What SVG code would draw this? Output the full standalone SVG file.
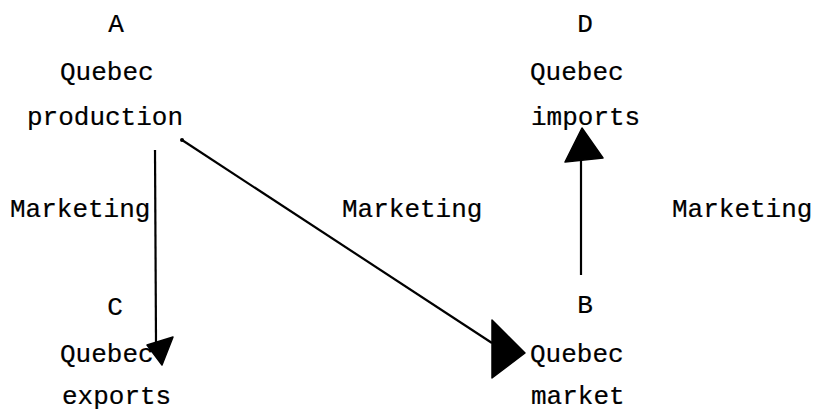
<svg xmlns="http://www.w3.org/2000/svg" width="813" height="411" viewBox="0 0 813 411">
  <style>
    text { font-family: "Liberation Mono", "DejaVu Sans Mono", monospace; font-size: 26px; fill: #000; stroke: #000; stroke-width: 0.2; }
    .mid { text-anchor: middle; }
    .line { stroke: #000; stroke-width: 2.2; fill: none; }
    .head { fill: #000; stroke: #000; stroke-width: 1.5; stroke-linejoin: round; }
  </style>
  <rect width="813" height="411" fill="#fff"/>
  <g id="node-A">
    <text class="mid" x="116" y="32">A</text>
    <text x="60" y="80">Quebec</text>
    <text x="27" y="125">production</text>
  </g>
  <g id="node-D">
    <text class="mid" x="585" y="32">D</text>
    <text x="530" y="80">Quebec</text>
    <text x="531" y="125">imports</text>
  </g>
  <g id="node-C">
    <text class="mid" x="115" y="315">C</text>
    <text x="60" y="362">Quebec</text>
    <text x="62" y="404">exports</text>
  </g>
  <g id="node-B">
    <text class="mid" x="585" y="313">B</text>
    <text x="530" y="362">Quebec</text>
    <text x="531" y="404">market</text>
  </g>
  <g id="connectors">
    <line class="line" x1="155" y1="150" x2="156" y2="342"/>
    <polygon class="head" points="147,345 173,337 162,365"/>
    <line class="line" x1="182" y1="140" x2="492" y2="343"/>
    <circle cx="182" cy="140" r="2" fill="#000"/>
    <polygon class="head" points="492,320 492,378 525,353"/>
    <line class="line" x1="581" y1="275" x2="581" y2="158"/>
    <polygon class="head" points="582,128 565,162 603,158"/>
  </g>
  <g id="labels">
    <text x="10" y="217">Marketing</text>
    <text x="342" y="217">Marketing</text>
    <text x="672" y="217">Marketing</text>
  </g>
</svg>
